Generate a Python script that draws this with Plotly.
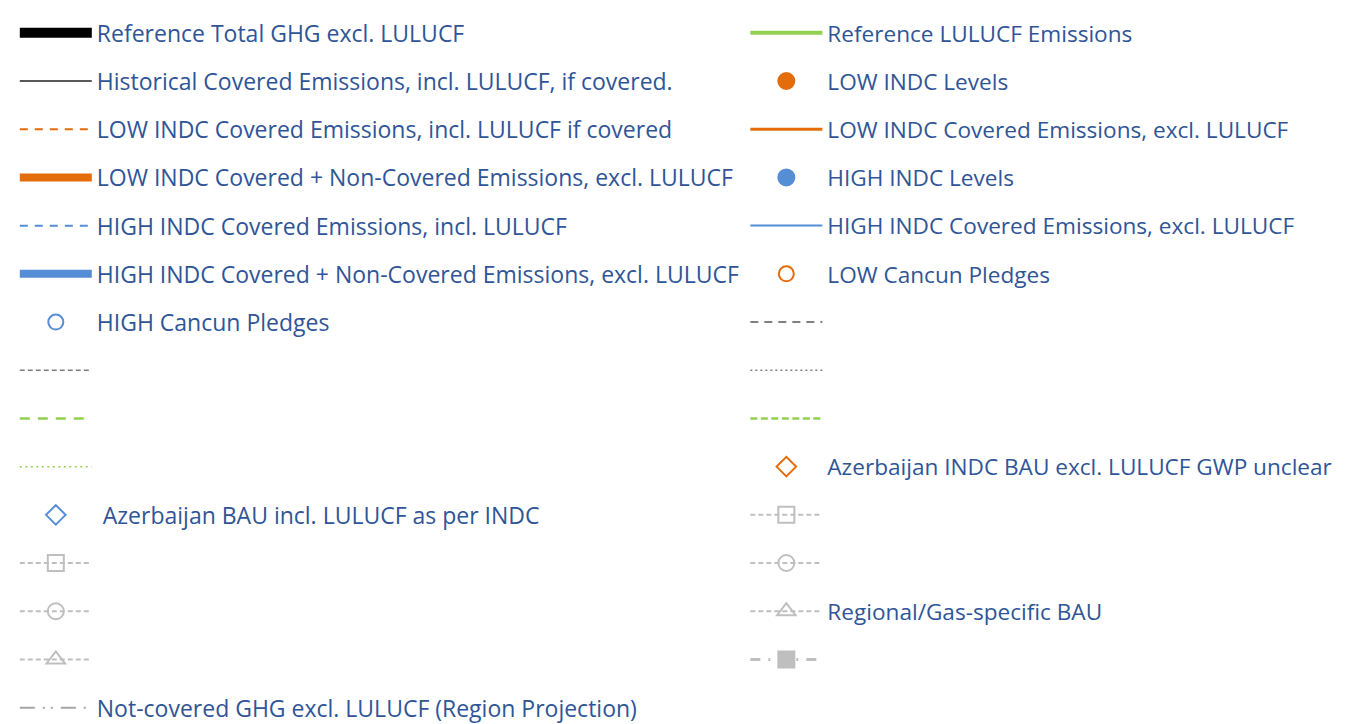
import plotly.graph_objects as go

# ---- legend content (left column, then right column) ----
left_labels = [
    "Reference Total GHG excl. LULUCF",
    "Historical Covered Emissions, incl. LULUCF, if covered.",
    "LOW INDC Covered Emissions, incl. LULUCF if covered",
    "LOW INDC Covered + Non-Covered Emissions, excl. LULUCF",
    "HIGH INDC Covered Emissions, incl. LULUCF",
    "HIGH INDC Covered + Non-Covered Emissions, excl. LULUCF",
    "HIGH Cancun Pledges",
    "",
    "",
    "",
    "\u00a0Azerbaijan BAU incl. LULUCF as per INDC",
    "",
    "",
    "",
    "Not-covered GHG excl. LULUCF (Region Projection)",
]
right_labels = [
    "Reference LULUCF Emissions",
    "LOW INDC Levels",
    "LOW INDC Covered Emissions, excl. LULUCF",
    "HIGH INDC Levels",
    "HIGH INDC Covered Emissions, excl. LULUCF",
    "LOW Cancun Pledges",
    "",
    "",
    "",
    "Azerbaijan INDC BAU excl. LULUCF GWP unclear",
    "",
    "",
    "Regional/Gas-specific BAU",
    "",
]

ORANGE = "#E46C0A"
BLUE = "#558ED5"
GREEN = "#92D050"
GRAY = "#808080"
LGRAY = "#BFBFBF"
TEXT = "#2F5597"

# style: (mode, line color, line width, dash, marker symbol, marker size, marker color)
left_styles = [
    ("lines", "#000000", 10, "solid", None, 0, None),
    ("lines", "#595959", 2, "solid", None, 0, None),
    ("lines", ORANGE, 2, "8px,7px", None, 0, None),
    ("lines", ORANGE, 8, "solid", None, 0, None),
    ("lines", BLUE, 2, "8px,7px", None, 0, None),
    ("lines", BLUE, 8, "solid", None, 0, None),
    ("markers", None, 0, None, "circle-open", 15, BLUE),
    ("lines", GRAY, 1.5, "5px,3px", None, 0, None),
    ("lines", GREEN, 2.5, "10px,8px", None, 0, None),
    ("lines", GREEN, 1.5, "2px,3.5px", None, 0, None),
    ("markers", None, 0, None, "diamond-open", 15, BLUE),
    ("lines+markers", LGRAY, 2, "5px,3px", "square-open", 16, LGRAY),
    ("lines+markers", LGRAY, 2, "5px,3px", "circle-open", 16, LGRAY),
    ("lines+markers", LGRAY, 2, "5px,3px", "triangle-up-open", 16, LGRAY),
    ("lines", "#A6A6A6", 2, "15px,8px,2px,6px,2px,8px", None, 0, None),
]
right_styles = [
    ("lines", GREEN, 4, "solid", None, 0, None),
    ("markers", None, 0, None, "circle", 16, ORANGE),
    ("lines", ORANGE, 3, "solid", None, 0, None),
    ("markers", None, 0, None, "circle", 16, BLUE),
    ("lines", BLUE, 2, "solid", None, 0, None),
    ("markers", None, 0, None, "circle-open", 15, ORANGE),
    ("lines", GRAY, 2, "8px,6px", None, 0, None),
    ("lines", GRAY, 1.5, "2px,3px", None, 0, None),
    ("lines", GREEN, 2.5, "7px,3.5px", None, 0, None),
    ("markers", None, 0, None, "diamond-open", 15, ORANGE),
    ("lines+markers", LGRAY, 2, "5px,3px", "square-open", 16, LGRAY),
    ("lines+markers", LGRAY, 2, "5px,3px", "circle-open", 16, LGRAY),
    ("lines+markers", LGRAY, 2, "5px,3px", "triangle-up-open", 16, LGRAY),
    ("lines+markers", LGRAY, 3, "10px,8px,2px,8px", "square", 16, LGRAY),
]

fig = go.Figure()


def add_items(labels, styles, legend_id, prefix):
    for i, (lab, st) in enumerate(zip(labels, styles)):
        mode, lc, lw, dash, sym, ms, mc = st
        kw = dict(
            x=[None], y=[None], mode=mode,
            name=lab if lab else "\u00a0",
            legend=legend_id, legendgroup=f"{prefix}{i}",
            showlegend=True, hoverinfo="skip",
        )
        if "lines" in mode:
            kw["line"] = dict(color=lc, width=lw, dash=dash)
        if "markers" in mode:
            kw["marker"] = dict(symbol=sym, size=ms, color=mc,
                                line=dict(color=mc, width=2))
        fig.add_trace(go.Scatter(**kw))


add_items(left_labels, left_styles, "legend", "L")
add_items(right_labels, right_styles, "legend2", "R")

legend_common = dict(
    orientation="v",
    traceorder="grouped",
    itemwidth=72,
    bgcolor="rgba(0,0,0,0)",
    borderwidth=0,
    xanchor="left",
    yanchor="top",
    itemclick=False,
    itemdoubleclick=False,
)

fig.update_layout(
    width=1346,
    height=724,
    margin=dict(l=0, r=0, t=0, b=0),
    paper_bgcolor="white",
    plot_bgcolor="white",
    xaxis=dict(visible=False),
    yaxis=dict(visible=False),
    legend=dict(x=0.011 - 8 / 1346, y=1.0 - 3.4 / 724, tracegroupgap=15.3,
                font=dict(family="Open Sans", size=23, color=TEXT),
                **legend_common),
    legend2=dict(x=0.553 - 7 / 1346, y=1.0 - 3.6 / 724, tracegroupgap=15.82,
                 font=dict(family="Open Sans", size=22.6, color=TEXT),
                 **legend_common),
)

fig.write_html("out.html")
